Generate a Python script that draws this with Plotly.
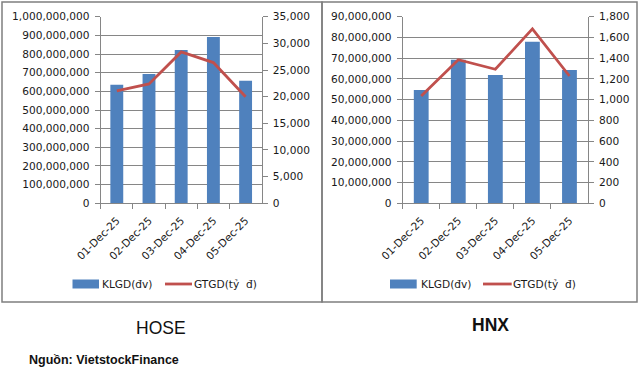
import plotly.graph_objects as go

dates = ["01-Dec-25", "02-Dec-25", "03-Dec-25", "04-Dec-25", "05-Dec-25"]
hose_klgd = [635e6, 693e6, 822e6, 891e6, 657e6]
hose_gtgd = [21100, 22400, 28400, 26400, 20000]
hnx_klgd = [54.7e6, 69.2e6, 61.9e6, 77.9e6, 64.3e6]
hnx_gtgd = [1035, 1385, 1293, 1683, 1228]

W, H = 639, 373
BAR = "#4F81BD"
LINE = "#C0504D"
GRID = "#868686"
FONT = "DejaVu Sans"
FS = 10.6
TXT = "#1a1a1a"

def px(x):
    return x / W

def py(y):
    return (H - y) / H

fig = go.Figure()
fig.add_trace(go.Bar(x=dates, y=hose_klgd, marker_color=BAR, xaxis="x", yaxis="y", showlegend=False))
fig.add_trace(go.Scatter(x=dates, y=hose_gtgd, mode="lines", line=dict(color=LINE, width=2.8),
                         xaxis="x", yaxis="y2", showlegend=False))
fig.add_trace(go.Bar(x=dates, y=hnx_klgd, marker_color=BAR, xaxis="x2", yaxis="y3", showlegend=False))
fig.add_trace(go.Scatter(x=dates, y=hnx_gtgd, mode="lines", line=dict(color=LINE, width=2.8),
                         xaxis="x2", yaxis="y4", showlegend=False))

ydom = [py(203.3), py(16.7)]
common_y = dict(showline=True, linecolor=GRID, linewidth=1, ticks="outside", ticklen=5,
                tickcolor=GRID, tickfont=dict(family=FONT, size=FS, color=TXT), automargin=False,
                tickformat=",", zeroline=False, domain=ydom, ticklabelstandoff=3)
common_x = dict(type="category", showline=True, linecolor=GRID, linewidth=1, ticks="outside",
                ticklen=5, tickcolor=GRID, tickson="boundaries", tickangle=-45, automargin=False,
                tickfont=dict(family=FONT, size=FS, color=TXT), showgrid=False, ticklabelstandoff=6)

fig.update_layout(
    template="none",
    width=W, height=H, margin=dict(l=0, r=0, t=0, b=0, autoexpand=False),
    paper_bgcolor="white", plot_bgcolor="white", bargap=0.6,
    xaxis=dict(common_x, domain=[px(100.7), px(261.7)], anchor="y"),
    yaxis=dict(common_y, range=[0, 1e9], dtick=1e8, showgrid=True, gridcolor=GRID, gridwidth=1,
               anchor="x"),
    yaxis2=dict(common_y, range=[0, 35000], dtick=5000, showgrid=False, overlaying="y",
                side="right", anchor="x"),
    xaxis2=dict(common_x, domain=[px(402.7), px(588)], anchor="y3"),
    yaxis3=dict(common_y, range=[0, 9e7], dtick=1e7, showgrid=True, gridcolor=GRID, gridwidth=1,
                anchor="x2"),
    yaxis4=dict(common_y, range=[0, 1800], dtick=200, showgrid=False, overlaying="y3",
                side="right", anchor="x2"),
    showlegend=False,
)

shapes = []
annotations = []
# panel borders
shapes.append(dict(type="rect", xref="paper", yref="paper", x0=px(2), x1=px(322), y0=py(302), y1=py(2),
                   line=dict(color="#7f7f7f", width=1.5)))
shapes.append(dict(type="rect", xref="paper", yref="paper", x0=px(322), x1=px(637), y0=py(302), y1=py(2),
                   line=dict(color="#7f7f7f", width=1.5)))

def legend(bx0, bx1, tx1, lx0, lx1, tx2, yc):
    shapes.append(dict(type="rect", xref="paper", yref="paper", x0=px(bx0), x1=px(bx1),
                       y0=py(yc + 4.5), y1=py(yc - 4.5), fillcolor=BAR, line=dict(width=0)))
    shapes.append(dict(type="line", xref="paper", yref="paper", x0=px(lx0), x1=px(lx1),
                       y0=py(yc), y1=py(yc), line=dict(color=LINE, width=2.8)))
    annotations.append(dict(xref="paper", yref="paper", x=px(tx1), y=py(yc), xanchor="left",
                            yanchor="middle", showarrow=False, text="KLGD(đv)",
                            font=dict(family=FONT, size=FS, color=TXT)))
    annotations.append(dict(xref="paper", yref="paper", x=px(tx2), y=py(yc), xanchor="left",
                            yanchor="middle", showarrow=False, text="GTGD(tỷ\u00a0 đ)",
                            font=dict(family=FONT, size=FS, color=TXT)))

legend(72.5, 99, 99.5, 165, 192, 192, 284)
legend(390, 416.7, 418.5, 483, 511.7, 511, 284)

annotations.append(dict(xref="paper", yref="paper", x=px(160.8), y=py(328), xanchor="center",
                        yanchor="middle", showarrow=False, text="HOSE",
                        font=dict(family="Liberation Sans Narrow, Liberation Sans", size=17.5, color="#111")))
annotations.append(dict(xref="paper", yref="paper", x=px(490), y=py(325), xanchor="center",
                        yanchor="middle", showarrow=False, text="<b>HNX</b>",
                        font=dict(family="Liberation Sans Narrow, Liberation Sans", size=17.5, color="#111")))
annotations.append(dict(xref="paper", yref="paper", x=px(26.5), y=py(360), xanchor="left",
                        yanchor="middle", showarrow=False, text="<b>Nguồn: VietstockFinance</b>",
                        font=dict(family="Liberation Sans", size=12.5, color="#111")))

fig.update_layout(shapes=shapes, annotations=annotations)
fig.write_html("out.html", config={"displayModeBar": False},
               post_script="document.body.style.margin='0';document.body.style.overflow='hidden';")
